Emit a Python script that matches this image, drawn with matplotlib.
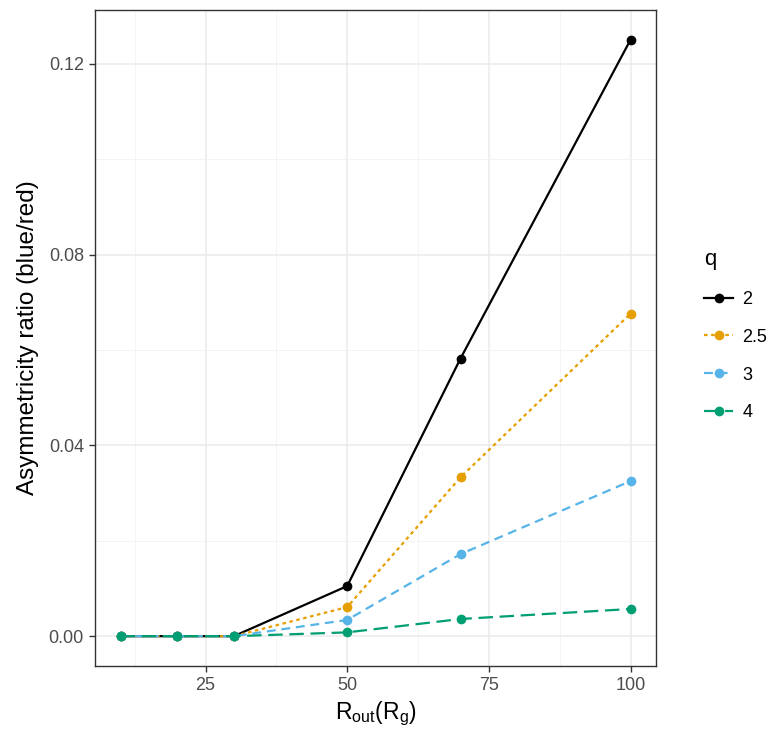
import matplotlib.pyplot as plt
from matplotlib.ticker import MultipleLocator

plt.rcParams["font.family"] = ["Liberation Sans", "DejaVu Sans"]

# data
r_out = [10, 20, 30, 50, 70, 100]
q_labels = ["2", "2.5", "3", "4"]
ratio_q2 = [0.0, 0.0, 0.0, 0.0105, 0.0582, 0.1250]
ratio_q25 = [0.0, 0.0, 0.0, 0.0061, 0.0333, 0.0676]
ratio_q3 = [0.0, 0.0, 0.0, 0.0034, 0.0172, 0.0325]
ratio_q4 = [0.0, 0.0, 0.0, 0.0008, 0.0036, 0.0057]

colors = ["#000000", "#E69F00", "#56B4E9", "#009E73"]
styles = ["-", (0, (1.6, 1.6)), (0, (4, 2.6)), (0, (6.5, 3))]

fig = plt.figure(figsize=(7.66, 7.32), dpi=100)
ax = fig.add_axes([95 / 766, 66 / 732, 561 / 766, 656 / 732])

series = [ratio_q2, ratio_q25, ratio_q3, ratio_q4]
handles = []
for vals, lab, c, ls in zip(series, q_labels, colors, styles):
    h, = ax.plot(r_out, vals, color=c, linestyle=ls, linewidth=1.6,
                 marker="o", markersize=7, markeredgewidth=0, label=lab,
                 dash_capstyle="butt")
    handles.append(h)

ax.set_xlim(5.5, 104.5)
ax.set_ylim(-0.00625, 0.13125)
ax.xaxis.set_major_locator(MultipleLocator(25))
ax.xaxis.set_minor_locator(MultipleLocator(12.5))
ax.yaxis.set_major_locator(MultipleLocator(0.04))
ax.yaxis.set_minor_locator(MultipleLocator(0.02))
ax.yaxis.set_major_formatter(plt.FuncFormatter(lambda v, p: f"{v:.2f}"))

ax.grid(True, which="major", color="#EBEBEB", linewidth=1.1)
ax.grid(True, which="minor", color="#F2F2F2", linewidth=0.6)
ax.set_axisbelow(True)
for s in ax.spines.values():
    s.set_color("#333333")
    s.set_linewidth(1.0)
ax.tick_params(which="major", length=4.5, width=1.0, color="#333333",
               labelsize=13, labelcolor="#4D4D4D", pad=3.5)
ax.tick_params(which="minor", length=0)

ax.set_xlabel(r"$\mathregular{R_{out}(R_g)}$", fontsize=16.5, labelpad=4)
ax.set_ylabel("Asymmetricity ratio (blue/red)", fontsize=17.5, labelpad=7)

fig.legend(handles=handles, labels=q_labels, title="q", frameon=False,
           loc="upper left", bbox_to_anchor=(688 / 766, 1 - 233 / 732),
           fontsize=13, title_fontsize=16, handlelength=1.6,
           labelspacing=1.15, handletextpad=0.5, alignment="left")

fig.savefig("out.png", dpi=100)
